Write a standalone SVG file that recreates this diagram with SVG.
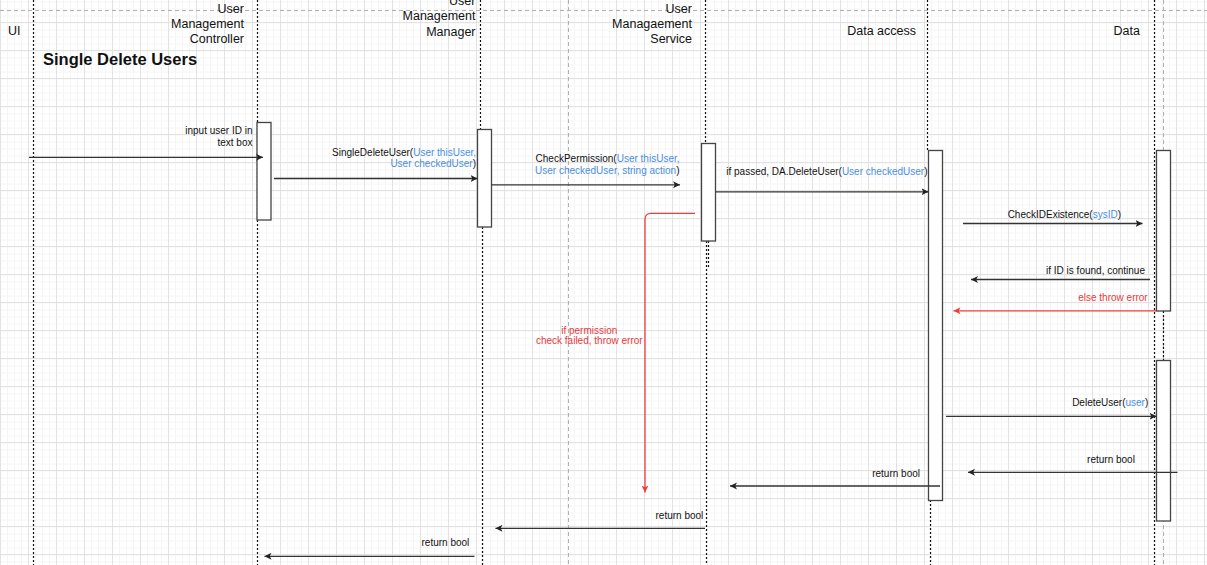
<svg xmlns="http://www.w3.org/2000/svg" width="1207" height="565" viewBox="0 0 1207 565">
<defs>
<pattern id="minor" x="0" y="1.5" width="7" height="7" patternUnits="userSpaceOnUse">
<path d="M0.5,0 V7 M0,0.5 H7" stroke="#f5f5f5" stroke-width="1" fill="none"/>
</pattern>
<pattern id="major" x="0" y="22" width="28" height="28" patternUnits="userSpaceOnUse">
<path d="M0.5,0 V28 M0,0.5 H28" stroke="#e2e2e2" stroke-width="1" fill="none"/>
</pattern>
<marker id="ah" viewBox="0 0 8 8" refX="7" refY="4" markerWidth="8" markerHeight="8" markerUnits="userSpaceOnUse" orient="auto">
<path d="M0,0.5 L7,4 L0,7.5 L1.8,4 Z" fill="#222"/>
</marker>
<marker id="ahr" viewBox="0 0 8 8" refX="7" refY="4" markerWidth="8" markerHeight="8" markerUnits="userSpaceOnUse" orient="auto">
<path d="M0,0.5 L7,4 L0,7.5 L1.8,4 Z" fill="#f03c3c"/>
</marker>
</defs>
<style>
text{font-family:"Liberation Sans",Arial,sans-serif;fill:#111}
.hd{font-size:12.5px;text-anchor:end}
.lb{font-size:10px;text-anchor:end}
.bl{fill:#4a8ee0}
.rd{fill:#e83a3a}
.life{stroke:#111;stroke-width:1.2;stroke-dasharray:2,2;fill:none}
.gd{stroke:#b0b0b0;stroke-width:1;stroke-dasharray:4,3;fill:none}
.act{fill:#fff;stroke:#444;stroke-width:1.3}
.msg{stroke:#333;stroke-width:1.3;fill:none;marker-end:url(#ah)}
.err{stroke:#f03c3c;stroke-width:1.3;fill:none;marker-end:url(#ahr)}
</style>
<rect width="1207" height="565" fill="#fff"/>
<rect width="1207" height="565" fill="url(#minor)"/>
<rect width="1207" height="565" fill="url(#major)"/>
<g id="guides">
<path class="gd" d="M0,10.5 H1207"/>
<path class="gd" d="M568.5,0 V565"/>
<path class="gd" d="M1163.5,0 V565"/>
</g>
<text x="43" y="65" style="font-size:16.5px;font-weight:bold">Single Delete Users</text>
<g id="ui">
<path class="life" d="M33.5,0 V565"/>
<text x="8" y="35" style="font-size:12.5px">UI</text>
</g>
<g id="umc">
<path class="life" d="M257.5,0 V565"/>
<text class="hd" x="244" y="13"><tspan x="244">User</tspan><tspan x="244" dy="15">Management</tspan><tspan x="244" dy="15">Controller</tspan></text>
<rect class="act" x="257" y="122.5" width="14" height="97.5"/>
</g>
<g id="umm">
<path class="life" d="M480.5,0 V130 M482.5,227 V565"/>
<text class="hd" x="475.5" y="5"><tspan x="475.5">User</tspan><tspan x="475.5" dy="15.3">Management</tspan><tspan x="475.5" dy="15.3">Manager</tspan></text>
<rect class="act" x="477.5" y="129.5" width="14" height="97.5"/>
</g>
<g id="ums">
<path class="life" d="M705.5,0 V143 M706.5,241 V565 M708.5,241 V268"/>
<text class="hd" x="692" y="13"><tspan x="692">User</tspan><tspan x="692" dy="15">Managaement</tspan><tspan x="692" dy="15">Service</tspan></text>
<rect class="act" x="701.5" y="143.5" width="14" height="97.5"/>
</g>
<g id="da">
<path class="life" d="M927.5,0 V150 M930.5,500 V565"/>
<text class="hd" x="916" y="35">Data access</text>
<rect class="act" x="928.5" y="150.5" width="14" height="350"/>
</g>
<g id="data">
<path class="life" d="M1154.5,0 V565 M1163.5,311 V360"/>
<text class="hd" x="1140" y="35">Data</text>
<rect class="act" x="1156.5" y="150.5" width="14" height="160.5"/>
<rect class="act" x="1156.5" y="360.5" width="14" height="160.5"/>
</g>
<g id="connectors">
<path class="msg" d="M29,157.3 H263"/>
<path class="msg" d="M274,178.5 H477.5"/>
<path class="msg" d="M491.5,184.8 H680"/>
<path class="msg" d="M715.5,191.8 H928.5"/>
<path class="msg" d="M963,223.5 H1142.5"/>
<path class="msg" d="M1150,279.5 H971"/>
<path class="err" d="M1156,310.8 H953.5"/>
<path class="err" d="M695,213.3 H651 Q645,213.3 645,219.3 V492.5"/>
<path class="msg" d="M946,416.3 H1156.5"/>
<path class="msg" d="M1177.5,472.3 H968"/>
<path class="msg" d="M940,486 H730"/>
<path class="msg" d="M705,528.3 H495.5"/>
<path class="msg" d="M474.5,556.3 H264.5"/>
</g>
<g id="labels">
<text class="lb" x="252.5" y="134"><tspan x="252.5">input user ID in</tspan><tspan x="252.5" dy="12.3">text box</tspan></text>
<text class="lb" x="476" y="155.8"><tspan x="476">SingleDeleteUser(<tspan class="bl">User thisUser,</tspan></tspan><tspan x="476" dy="11.3"><tspan class="bl">User checkedUser</tspan>)</tspan></text>
<text class="lb" x="679.5" y="162"><tspan x="679.5">CheckPermission(<tspan class="bl">User thisUser,</tspan></tspan><tspan x="679.5" dy="12"><tspan class="bl">User checkedUser, string action</tspan>)</tspan></text>
<text class="lb" x="927.5" y="175.2">if passed, DA.DeleteUser(<tspan class="bl">User checkedUser</tspan>)</text>
<text class="lb" x="1121" y="217.5">CheckIDExistence(<tspan class="bl">sysID</tspan>)</text>
<text class="lb" x="1145" y="273.5">if ID is found, continue</text>
<text class="lb rd" x="1147.7" y="300.8">else throw error</text>
<text class="lb rd" x="589.3" y="333.5" style="text-anchor:middle"><tspan x="589.3">if permission</tspan><tspan x="589.3" dy="10.8">check failed, throw error</tspan></text>
<text class="lb" x="1148.3" y="406.2">DeleteUser(<tspan class="bl">user</tspan>)</text>
<text class="lb" x="1111" y="462.5" style="text-anchor:middle">return bool</text>
<text class="lb" x="920" y="476.8">return bool</text>
<text class="lb" x="703.3" y="518.5">return bool</text>
<text class="lb" x="469.3" y="546.2">return bool</text>
</g>
</svg>
